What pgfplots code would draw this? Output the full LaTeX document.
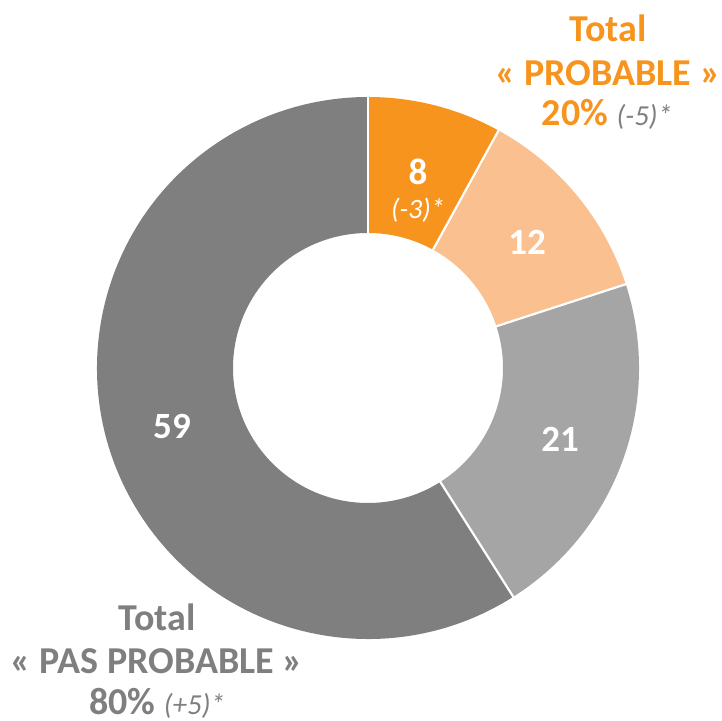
\documentclass[border=0pt]{standalone}
\usepackage{pgfplots}
\pgfplotsset{compat=1.18}
\usepackage{pgfplotstable}
\usetikzlibrary{calc}
\usepackage{fontspec}
\setmainfont{Carlito}
\definecolor{orA}{HTML}{F7941D}
\definecolor{orB}{HTML}{FAC090}
\definecolor{grA}{HTML}{A5A5A5}
\definecolor{grB}{HTML}{7F7F7F}
\pgfplotstableread{
value col
8 orA
12 orB
21 grA
59 grB
}\donut
\pgfplotstablegetelem{0}{value}\of\donut \let\va\pgfplotsretval
\pgfplotstablegetelem{1}{value}\of\donut \let\vb\pgfplotsretval
\pgfplotstablegetelem{2}{value}\of\donut \let\vc\pgfplotsretval
\pgfplotstablegetelem{3}{value}\of\donut \let\vd\pgfplotsretval
\pgfmathsetmacro{\tot}{\va+\vb+\vc+\vd}
\pgfmathsetmacro{\aA}{90}
\pgfmathsetmacro{\aB}{\aA-(\va/\tot)*360}
\pgfmathsetmacro{\aC}{\aB-(\vb/\tot)*360}
\pgfmathsetmacro{\aD}{\aC-(\vc/\tot)*360}
\pgfmathsetmacro{\aE}{\aD-(\vd/\tot)*360}
\newcommand{\seg}[3]{%
  \fill[#3] ($(axis cs:368,353)+(#1:135.5pt)$) arc[start angle=#1, end angle=#2, radius=135.5pt]
    -- ($(axis cs:368,353)+(#2:67.5pt)$) arc[start angle=#2, end angle=#1, radius=67.5pt] -- cycle;}
\newcommand{\sep}[1]{%
  \draw[white, line width=1.1pt] ($(axis cs:368,353)+(#1:67pt)$) -- ($(axis cs:368,353)+(#1:136pt)$);}
\begin{document}
\begin{tikzpicture}
\begin{axis}[hide axis, scale only axis, width=360.5pt, height=360.5pt,
  xmin=0, xmax=721, ymin=0, ymax=721, clip=false]
\addplot[draw=none] coordinates {(0,0) (721,721)};
\seg{\aA}{\aB}{orA}
\seg{\aB}{\aC}{orB}
\seg{\aC}{\aD}{grA}
\seg{\aD}{\aE}{grB}
\sep{\aA}\sep{\aB}\sep{\aC}\sep{\aD}
\tikzset{lab/.style={font=\fontsize{18.5}{21}\selectfont\bfseries, text=white, inner sep=0pt}}
\node[lab] at (axis cs:418,549) {8};
\node[font=\fontsize{14}{16}\selectfont\itshape, text=white, inner sep=0pt] at (axis cs:418,511) {(-3)*};
\node[lab] at (axis cs:527,479) {12};
\node[lab] at (axis cs:560,282) {21};
\node[lab] at (axis cs:172,294) {59};
\tikzset{tot/.style={font=\fontsize{19}{22}\selectfont\bfseries, inner sep=0pt}}
\node[tot, text=orA] at (axis cs:608,693) {Total};
\node[tot, text=orA] at (axis cs:608,648) {« PROBABLE »};
\node[tot, text=orA] at (axis cs:607,607) {20\% \textcolor{grB}{\mdseries\itshape\fontsize{14.5}{16}\selectfont(-5)*}};
\node[tot, text=grB] at (axis cs:157,104) {Total};
\node[tot, text=grB] at (axis cs:157,60) {« PAS PROBABLE »};
\node[tot, text=grB] at (axis cs:157,18) {80\% {\mdseries\itshape\fontsize{14.5}{16}\selectfont(+5)*}};
\end{axis}
\end{tikzpicture}
\end{document}
